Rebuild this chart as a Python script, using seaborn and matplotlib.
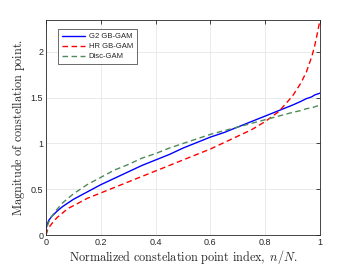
import matplotlib
matplotlib.use("Agg")
import matplotlib.pyplot as plt
import pandas as pd
import seaborn as sns

# data
n_over_N = [0, 0.005, 0.01, 0.02, 0.04, 0.06, 0.08, 0.1, 0.15, 0.2, 0.25, 0.3, 0.35, 0.4, 0.45,
            0.5, 0.55, 0.6, 0.65, 0.7, 0.75, 0.8, 0.85, 0.9, 0.93, 0.95, 0.97, 0.98, 0.99, 1.0]
g2_gam = [0.07, 0.12, 0.16, 0.2, 0.26, 0.31, 0.35, 0.39, 0.47, 0.55, 0.62, 0.69, 0.76, 0.82, 0.88,
          0.95, 1.01, 1.07, 1.12, 1.18, 1.24, 1.30, 1.36, 1.42, 1.46, 1.49, 1.51, 1.53, 1.54, 1.55]
hr_gam = [0.0, 0.05, 0.08, 0.12, 0.19, 0.24, 0.29, 0.32, 0.40, 0.46, 0.52, 0.58, 0.64, 0.70, 0.76,
          0.82, 0.88, 0.94, 1.01, 1.08, 1.15, 1.24, 1.35, 1.52, 1.66, 1.78, 1.95, 2.06, 2.2, 2.35]
disc_gam = [0.0, 0.1, 0.14, 0.2, 0.28, 0.35, 0.4, 0.45, 0.55, 0.63, 0.71, 0.77, 0.84, 0.89, 0.95,
            1.0, 1.05, 1.1, 1.14, 1.18, 1.22, 1.26, 1.30, 1.34, 1.36, 1.38, 1.39, 1.40, 1.41, 1.41]

df = pd.DataFrame({"x": n_over_N, "G2 GB-GAM": g2_gam, "HR GB-GAM": hr_gam, "Disc-GAM": disc_gam})

sns.set_style("white")
plt.rcParams['font.family'] = ['Liberation Sans', 'DejaVu Sans']
plt.rcParams['mathtext.fontset'] = 'cm'

fig = plt.figure(figsize=(3.54, 2.66), dpi=100)
ax = fig.add_axes([0.13, 0.1165, 0.774, 0.8085])

sns.lineplot(data=df, x="x", y="G2 GB-GAM", color="#0000ff", lw=1.0, ax=ax, label="G2 GB-GAM")
sns.lineplot(data=df, x="x", y="HR GB-GAM", color="#ff0000", lw=1.0, ax=ax, label="HR GB-GAM",
             linestyle=(0, (4, 2.5)))
sns.lineplot(data=df, x="x", y="Disc-GAM", color="#4f8a5b", lw=1.0, ax=ax, label="Disc-GAM",
             linestyle=(0, (4, 2.5)))

ax.set_xlim(0, 1)
ax.set_ylim(0, 2.35)
ax.set_xticks([0, 0.2, 0.4, 0.6, 0.8, 1])
ax.set_xticklabels(["0", "0.2", "0.4", "0.6", "0.8", "1"])
ax.set_yticks([0, 0.5, 1, 1.5, 2])
ax.set_yticklabels(["0", "0.5", "1", "1.5", "2"])
ax.tick_params(direction="in", length=3, width=0.6, labelsize=6.5, colors="#262626", pad=2,
               top=True, right=True)
ax.grid(True, color="#e6e6e6", lw=0.6)
for s in ax.spines.values():
    s.set_color("#262626")
    s.set_linewidth(0.6)

ax.set_xlabel(r"$\mathrm{Normalized\ constelation\ point\ index,}\ n/N.$", fontsize=8.8,
              color="#262626", labelpad=1)
ax.set_ylabel(r"$\mathrm{Magnitude\ of\ constellation\ point.}$", fontsize=8.8,
              color="#262626", labelpad=3)

leg = ax.legend(loc="upper left", fontsize=5.5, frameon=True, fancybox=False,
                bbox_to_anchor=(0.03, 0.975), handlelength=3.0, handletextpad=0.5,
                borderpad=0.5, labelspacing=0.35)
leg.get_frame().set_edgecolor("#262626")
leg.get_frame().set_linewidth(0.6)

fig.savefig("out.png", dpi=100)
